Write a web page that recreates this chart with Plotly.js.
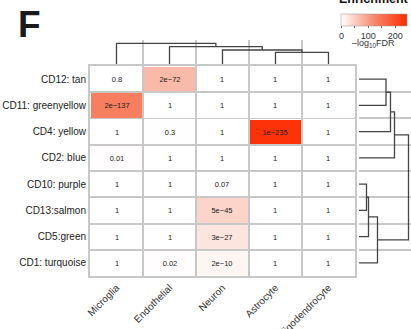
<!DOCTYPE html>
<html><head><meta charset="utf-8">
<script src="https://cdn.plot.ly/plotly-3.0.1.min.js"></script>
<style>html,body{margin:0;padding:0;background:#fff;}#chart{width:411px;height:329px;}</style>
</head><body><div id="chart"></div>
<script>
// ----- data -----
const cellTypes = ["Microglia", "Endothelial", "Neuron", "Astrocyte", "Oligodendrocyte"];
const modules = ["CD12: tan", "CD11: greenyellow", "CD4: yellow", "CD2: blue", "CD10: purple", "CD13:salmon", "CD5:green", "CD1: turquoise"];
// FDR per module (rows, top to bottom) x cell type (columns)
const fdrCD12 = [0.8, 2e-72, 1, 1, 1];
const fdrCD11 = [2e-137, 1, 1, 1, 1];
const fdrCD4  = [1, 0.3, 1, 1e-235, 1];
const fdrCD2  = [0.01, 1, 1, 1, 1];
const fdrCD10 = [1, 1, 0.07, 1, 1];
const fdrCD13 = [1, 1, 5e-45, 1, 1];
const fdrCD5  = [1, 1, 3e-27, 1, 1];
const fdrCD1  = [1, 0.02, 2e-10, 1, 1];
// dendrogram merges: [left node, right node, height]; leaves first, new nodes numbered after
const colMerges = [[3, 4, 11.7], [2, 5, 14], [1, 6, 17.3], [0, 7, 20.7]];
const rowMerges = [[0, 1, 27], [8, 2, 31.5], [9, 3, 35.5], [4, 5, 7.5], [11, 6, 9.5], [12, 7, 18.5], [10, 13, 49.5]];
const scaleMax = 245;
const scaleTickVals = [0, 50, 100, 150, 200];
const scaleTickText = ["0", " ", "100", " ", "200"];

// ----- build -----
const fdr = [fdrCD12, fdrCD11, fdrCD4, fdrCD2, fdrCD10, fdrCD13, fdrCD5, fdrCD1];
const z = fdr.map(r => r.map(v => -Math.log10(v)));
const fmt = v => (v < 0.001 ? v.toExponential(0) : String(v)).replace("-", "\u2212");
const txt = fdr.map(r => r.map(fmt));
const xi = cellTypes.map((_, i) => i);
const yi = modules.map((_, i) => i);

function dendro(nLeaves, merges, horizontal) {
  const pos = [], ht = [];
  for (let i = 0; i < nLeaves; i++) { pos.push(i); ht.push(0); }
  const a = [], b = [];
  merges.forEach(([l, r, h]) => {
    const seg = [[pos[l], ht[l]], [pos[l], h], [pos[r], h], [pos[r], ht[r]]];
    seg.forEach(([p, q]) => { a.push(p); b.push(q); });
    a.push(null); b.push(null);
    pos.push((pos[l] + pos[r]) / 2); ht.push(h);
  });
  return horizontal ? {x: b, y: a} : {x: a, y: b};
}
const topD = dendro(cellTypes.length, colMerges, false);
const rightD = dendro(modules.length, rowMerges, true);

const font = "Liberation Sans, Arial, Helvetica, sans-serif";
const traces = [
  {
    type: "heatmap", x: xi, y: yi, z: z, text: txt, texttemplate: "%{text}",
    textfont: {family: font, size: 7.5, color: "#222"},
    zmin: 0, zmax: scaleMax, xgap: 2, ygap: 2,
    colorscale: [[0, "#ffffff"], [0.5, "#f6896c"], [1, "#ff2a00"]],
    hoverinfo: "skip",
    colorbar: {
      orientation: "h", lenmode: "pixels", len: 66, thickness: 12,
      x: 0.886, xanchor: "center", y: 0.951, yanchor: "top", xpad: 0, ypad: 0,
      title: {text: ""},
      outlinewidth: 0.5, outlinecolor: "#999",
      tickmode: "array", tickvals: scaleTickVals, ticktext: scaleTickText,
      ticks: "outside", ticklen: 2, tickwidth: 0.8, tickcolor: "#444",
      tickfont: {family: font, size: 9, color: "#333"}
    }
  },
  {type: "scatter", mode: "lines", x: topD.x, y: topD.y, xaxis: "x", yaxis: "y2",
   line: {color: "#444", width: 1.3}, hoverinfo: "skip", showlegend: false, connectgaps: false},
  {type: "scatter", mode: "lines", x: rightD.x, y: rightD.y, xaxis: "x2", yaxis: "y",
   line: {color: "#444", width: 1.3}, hoverinfo: "skip", showlegend: false, connectgaps: false}
];

const hid = {visible: false, showgrid: false, zeroline: false, fixedrange: true};
const layout = {
  width: 411, height: 329,
  margin: {l: 90, r: 0, t: 0, b: 53},
  paper_bgcolor: "#fff", plot_bgcolor: "#fff",
  font: {family: font, color: "#222"},
  showlegend: false,
  xaxis: {
    domain: [0, 0.8255], range: [-0.5, cellTypes.length - 0.5], anchor: "y",
    tickmode: "array", tickvals: xi, ticktext: cellTypes, tickangle: -45,
    tickfont: {family: font, size: 10, color: "#333"}, ticks: "",
    showgrid: false, zeroline: false, showline: true, mirror: true, linecolor: "#c8c8c8", linewidth: 2,
    minor: {tick0: 0.5, dtick: 1, showgrid: true, gridcolor: "#c8c8c8", gridwidth: 2, ticks: ""},
    automargin: false, fixedrange: true
  },
  yaxis: {
    domain: [0, 0.7609], range: [modules.length - 0.5, -0.5], anchor: "x",
    tickmode: "array", tickvals: yi, ticktext: modules,
    tickfont: {family: font, size: 10, color: "#222"}, ticks: "",
    showgrid: false, zeroline: false, showline: true, mirror: true, linecolor: "#c8c8c8", linewidth: 2,
    minor: {tick0: 0.5, dtick: 1, showgrid: true, gridcolor: "#c8c8c8", gridwidth: 2, ticks: ""},
    automargin: false, fixedrange: true
  },
  yaxis2: Object.assign({domain: [0.7681, 0.8551], range: [0, 24], anchor: "x"}, hid),
  xaxis2: Object.assign({domain: [0.838, 1], range: [0, 52], anchor: "y"}, hid),
  annotations: [
    {text: "<b>F</b>", xref: "paper", yref: "paper", x: -0.232, y: 0.993, xanchor: "left", yanchor: "top",
     showarrow: false, font: {family: font, size: 37, color: "#1a1a1a"}},
    {text: "<b>Enrichment</b>", xref: "paper", yref: "paper", x: 0.886, y: 0.971, xanchor: "center", yanchor: "bottom",
     showarrow: false, font: {family: font, size: 12.5, color: "#111"}},
    {text: "\u2013log<sub>10</sub>FDR", xref: "paper", yref: "paper", x: 0.884, y: 0.8406, xanchor: "center", yanchor: "middle",
     showarrow: false, font: {family: font, size: 9, color: "#333"}}
  ]
};
Plotly.newPlot("chart", traces, layout, {staticPlot: true, displayModeBar: false});
</script></body></html>
